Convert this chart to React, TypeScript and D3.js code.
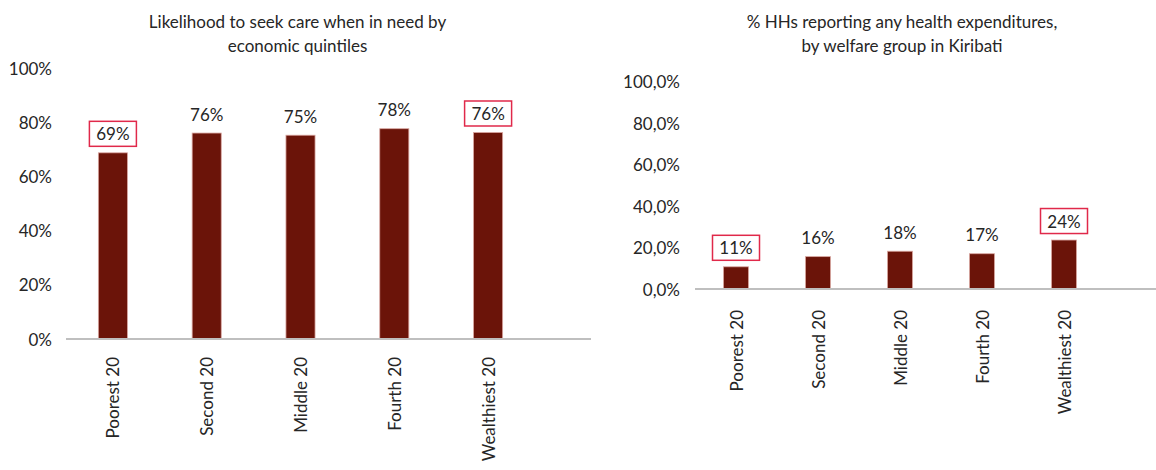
import React from "react";
import * as d3 from "d3";

const categories = ["Poorest 20", "Second 20", "Middle 20", "Fourth 20", "Wealthiest 20"];
const careValues = [0.687, 0.760, 0.752, 0.776, 0.762];
const expenditureValues = [0.107, 0.156, 0.182, 0.170, 0.236];
const highlighted = ["Poorest 20", "Wealthiest 20"];
const yTicks = [0, 0.2, 0.4, 0.6, 0.8, 1.0];
const leftTitle = ["Likelihood to seek care when in need by", "economic quintiles"];
const rightTitle = ["% HHs reporting any health expenditures,", "by welfare group in Kiribati"];

const FONT = "Lato, 'Open Sans', sans-serif";
const BAR = "#6B1409";
const TEXT = "#262626";
const BOX = "#E0294A";

const commaLocale = d3.formatLocale({ decimal: ",", thousands: ".", grouping: [3], currency: ["", "€"] });
const fmtLeftTick = d3.format(".0%");
const fmtRightTick = commaLocale.format(".1%");
const fmtLabel = d3.format(".0%");

type PanelProps = {
  values: number[];
  title: string[];
  titleX: number;
  x0: number;
  x1: number;
  axisEnd: number;
  y0: number;
  y1: number;
  tickX: number;
  tickFmt: (v: number) => string;
  barFrac: number;
  catY: number;
};

function Panel(p: PanelProps) {
  const x = d3.scaleBand<string>().domain(categories).range([p.x0, p.x1]).padding(0);
  const y = d3.scaleLinear().domain([0, 1]).range([p.y0, p.y1]);
  const bw = x.step() * p.barFrac;
  return (
    <g>
      {p.title.map((t, i) => (
        <text key={i} x={p.titleX} y={21 + i * 24} textAnchor="middle" dominantBaseline="central"
          fontFamily={FONT} fontSize={17} fill={TEXT}>{t}</text>
      ))}
      {yTicks.map((t) => (
        <text key={t} x={p.tickX} y={y(t)} textAnchor="end" dominantBaseline="central"
          fontFamily={FONT} fontSize={17} fill={TEXT}>{p.tickFmt(t)}</text>
      ))}
      {categories.map((c, i) => {
        const cx = (x(c) as number) + x.step() / 2;
        const v = p.values[i];
        const top = y(v);
        const ly = top - 19;
        return (
          <g key={c}>
            <rect x={cx - bw / 2} y={top} width={bw} height={y(0) - top} fill={BAR}
              stroke="#d9a6a0" strokeWidth={0.8} />
            {highlighted.includes(c) && (
              <rect x={cx - 23.5} y={ly - 12.5} width={47} height={25} fill="white"
                stroke={BOX} strokeWidth={1.5} />
            )}
            <text x={cx} y={ly} textAnchor="middle" dominantBaseline="central"
              fontFamily={FONT} fontSize={17} fill={TEXT}>{fmtLabel(v)}</text>
            <text transform={`translate(${cx},${p.catY}) rotate(-90)`} textAnchor="end"
              dominantBaseline="central" fontFamily={FONT} fontSize={17} fill={TEXT}>{c}</text>
          </g>
        );
      })}
      <line x1={p.x0} x2={p.axisEnd} y1={y(0)} y2={y(0)} stroke="#BFBFBF" strokeWidth={2} />
    </g>
  );
}

export default function App() {
  return (
    <div style={{ position: "absolute", left: 0, top: 0 }}>
      <svg width={1156} height={470} style={{ display: "block", background: "white" }}>
        <Panel values={careValues} title={leftTitle} titleX={297.5} x0={66} x1={535} axisEnd={591}
          y0={339} y1={68} tickX={52} tickFmt={fmtLeftTick} barFrac={0.31} catY={357} />
        <Panel values={expenditureValues} title={rightTitle} titleX={902} x0={695} x1={1105} axisEnd={1156}
          y0={289} y1={81.5} tickX={680} tickFmt={fmtRightTick} barFrac={0.305} catY={310} />
      </svg>
    </div>
  );
}
